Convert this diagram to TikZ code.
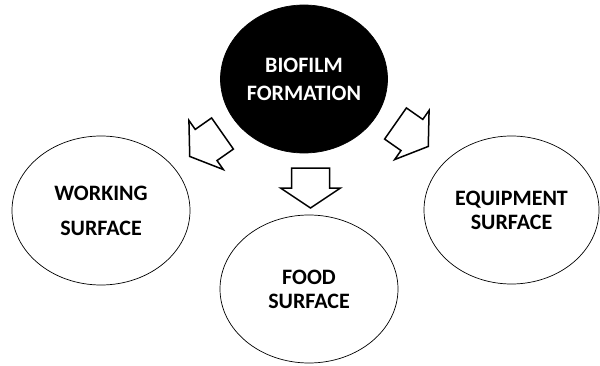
\documentclass[tikz,border=0pt]{standalone}
\usepackage{fontspec}
\setmainfont{Carlito}
\usetikzlibrary{shapes.geometric}
\tikzset{
  ell/.style={ellipse, draw=black, line width=0.7pt, inner sep=0pt, align=center,
    font=\fontsize{22}{24}\selectfont\bfseries},
  whiteell/.style={ell, fill=white, text=black},
  blackell/.style={ell, fill=black, text=white},
  arrowline/.style={draw=black, fill=white, line width=1.5pt, line join=miter},
  fatarrow/.pic={\path[arrowline] (0,-19) -- (20,-19) -- (20,-30) -- (40,0) -- (20,30) -- (20,19) -- (0,19) -- cycle;}
}
\begin{document}
\begin{tikzpicture}[x=1pt,y=1pt]
\useasboundingbox (0,0) rectangle (600,365);
\node[blackell, minimum width=167pt, minimum height=148pt] (bio) at (304,286) {BIOFILM\\[4pt]FORMATION};
\node[whiteell, minimum width=178pt, minimum height=149pt] (work) at (101,154.5) {WORKING\\[11pt]SURFACE};
\node[whiteell, minimum width=178pt, minimum height=148pt] (food) at (309,76) {FOOD\\SURFACE};
\node[whiteell, minimum width=175pt, minimum height=148pt] (equip) at (511.5,155) {EQUIPMENT\\SURFACE};
\pic[rotate=215] (arrL) at (222.5,231.5) {fatarrow};
\pic[rotate=-90] (arrD) at (310.5,197) {fatarrow};
\pic[rotate=-35] (arrR) at (395.5,241.5) {fatarrow};
\end{tikzpicture}
\end{document}
